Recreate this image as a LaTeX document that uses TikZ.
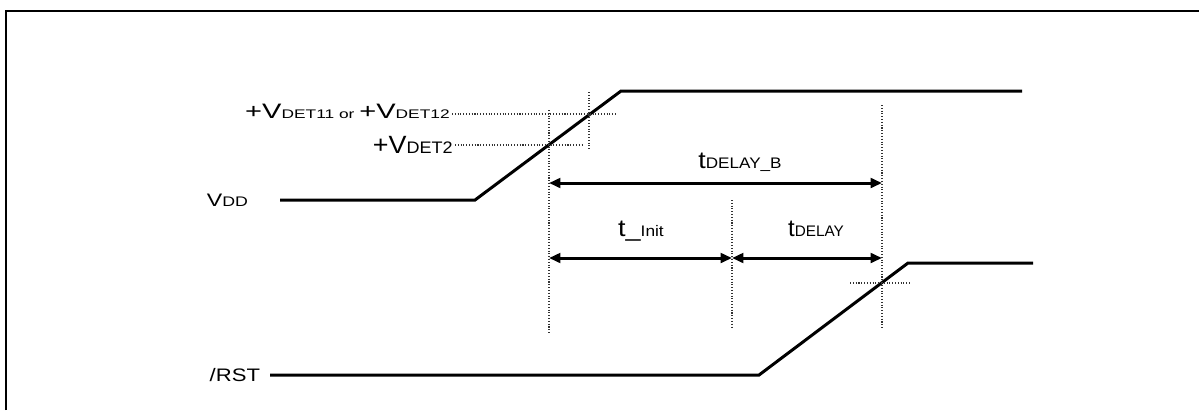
\documentclass[tikz,border=0pt]{standalone}
\usepackage{fontspec}
\setmainfont{Liberation Sans}
\usepackage{graphicx}
\usetikzlibrary{positioning}
\usetikzlibrary{arrows.meta}
\tikzset {
  % signal traces
  sig/.style={line width=1.7pt, line join=miter},
  % thin dotted helper lines
  guide/.style={densely dotted, line width=0.6pt, black!80},
  % timing spans with two heads
  span/.style={line width=1.7pt, {Triangle[length=6.5pt,width=5.5pt]}-{Triangle[length=6.5pt,width=5.5pt]}},
  lab/.style={inner sep=0pt, font=\fontsize{10.3}{12}\selectfont},
}
\newcommand{\fsz}[2]{{\fontsize{#1}{#1}\selectfont #2}}
\newcommand{\xstretch}[2]{\scalebox{#1}[1]{#2}}

\begin{document}
\begin{tikzpicture}[x=0.02cm, y=-0.02cm]
        \useasboundingbox (0,0) rectangle (1199,410);
        \draw[line width=1.1pt] (6,410) -- (6,11) -- (1199,11);

        % VDD trace
        \coordinate (vdd0) at (280,200);
        \coordinate (vdd1) at (475,200);
        \coordinate (vdd2) at (621,91);
        \coordinate (vdd3) at (1022,91);
        \draw[sig] (vdd0) -- (vdd1) -- (vdd2) -- (vdd3);
        \node[lab, left=18pt of vdd0] (vddlab) {\xstretch{1.28}{V\fsz{7.9}{DD}}};

        % /RST trace
        \coordinate (rst0) at (270,375);
        \coordinate (rst1) at (759,375);
        \coordinate (rst2) at (908,263);
        \coordinate (rst3) at (1033,263);
        \draw[sig] (rst0) -- (rst1) -- (rst2) -- (rst3);
        \node[lab, left=5.5pt of rst0] (rstlab) {\xstretch{1.22}{/RST}};

        % detection levels
        \node[lab, anchor=base east] (det1) at (450,118) {\xstretch{1.39}{\fsz{11.9}{+V}\fsz{7.1}{DET11 or }\fsz{11.9}{+V}\fsz{7.1}{DET12}}};
        \node[lab, anchor=base east] (det2) at (453,153) {\xstretch{1.08}{\fsz{14.2}{+V}\fsz{9.5}{DET2}}};
        \coordinate (g1a) at (452,114);
        \coordinate (g1b) at (617,114);
        \coordinate (g2a) at (455,145);
        \coordinate (g2b) at (582,145);
        \coordinate (g3a) at (850,283);
        \coordinate (g3b) at (911,283);
        \draw[guide] (g1a) -- (g1b);
        \draw[guide] (g2a) -- (g2b);
        \draw[guide] (g3a) -- (g3b);

        % vertical markers
        \coordinate (va0) at (549,110);
        \coordinate (va1) at (549,333);
        \coordinate (vb0) at (589,92);
        \coordinate (vb1) at (589,150);
        \coordinate (vc0) at (732,200);
        \coordinate (vc1) at (732,329);
        \coordinate (vd0) at (882,105);
        \coordinate (vd1) at (882,329);
        \draw[guide] (va0) -- (va1);
        \draw[guide] (vb0) -- (vb1);
        \draw[guide] (vc0) -- (vc1);
        \draw[guide] (vd0) -- (vd1);

        % time spans
        \coordinate (tb0) at (549,183);
        \coordinate (tb1) at (882,183);
        \coordinate (ti0) at (549,258);
        \coordinate (ti1) at (732,258);
        \coordinate (td1) at (882,258);
        \draw[span] (tb0) -- (tb1);
        \draw[span] (ti0) -- (ti1);
        \draw[span] (ti1) -- (td1);
        \node[lab, anchor=base] (tdbl) at (740,168) {\xstretch{1.12}{\fsz{13.6}{t}\fsz{8.7}{DELAY\_B}}};
        \node[lab, anchor=base] (tinl) at (641,236) {\xstretch{1.13}{\fsz{13.6}{t\_}\fsz{8.7}{Init}}};
        \node[lab, anchor=base] (tdl) at (816,236) {\fsz{13.6}{t}\fsz{8.7}{DELAY}};
      \end{tikzpicture}
\end{document}
